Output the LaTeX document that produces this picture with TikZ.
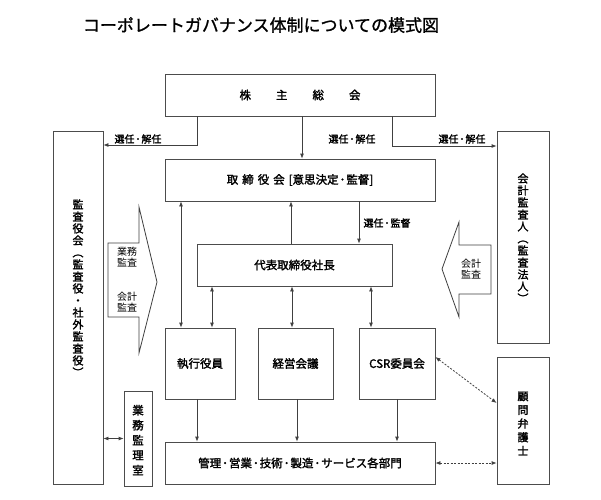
\documentclass[tikz,border=0pt]{standalone}
\usepackage{fontspec}
\newfontfamily\jp{Noto Sans CJK JP}
\newfontfamily\jpt[FakeBold=1.2]{Noto Sans CJK JP}
\newfontfamily\jpb[FakeBold=1.8]{Noto Sans CJK JP}
\usetikzlibrary{arrows.meta}
\newcommand{\hdot}{\hspace{1pt}･\hspace{1pt}}
\begin{document}
\begin{tikzpicture}[x=1pt,y=-1pt,
  bx/.style={draw=black!70, line width=0.8pt, inner sep=0pt, font=\jpb\fontsize{11.5}{13}\selectfont, align=center},
  vt/.style={font=\jpb\fontsize{11}{12}\selectfont, align=center, inner sep=0pt},
  arr/.style={draw=black!75, line width=0.8pt, -{Latex[length=5pt,width=4pt]}},
  darr/.style={draw=black!75, line width=0.8pt, {Latex[length=5pt,width=4pt]}-{Latex[length=5pt,width=4pt]}},
  dsh/.style={darr, dash pattern=on 2pt off 1.5pt},
  lbl/.style={font=\jpb\fontsize{10}{12}\selectfont, inner sep=0pt},
  co/.style={draw=black!75, line width=0.8pt, fill=white, line join=miter},
  cot/.style={font=\jp\fontsize{10}{11}\selectfont, align=center, inner sep=0pt}
]
\useasboundingbox (0,0) rectangle (601,499);
\fill[white] (0,0) rectangle (601,499);

% title
\node[font=\jpt\fontsize{17}{20}\selectfont, inner sep=0pt] (title) at (261,25) {コーポレートガバナンス体制についての模式図};

% boxes
\node[bx, minimum width=270pt, minimum height=42pt] (sh) at (300,95) {株\hspace{25pt}主\hspace{25pt}総\hspace{25pt}会};
\node[bx, minimum width=270pt, minimum height=42pt] (bd) at (300,180) {取\hspace{4pt}締\hspace{4pt}役\hspace{4pt}会\hspace{4pt}[意思決定\hdot 監督]};
\node[bx, minimum width=195pt, minimum height=42pt] (ceo) at (294.5,265) {代表取締役社長};
\node[bx, minimum width=70pt, minimum height=71pt] (exe) at (200,363.5) {執行役員};
\node[bx, minimum width=75pt, minimum height=71pt] (mgmt) at (295.5,363.5) {経営会議};
\node[bx, minimum width=76pt, minimum height=71pt] (csr) at (397,363.5) {CSR委員会};
\node[bx, minimum width=270pt, minimum height=42pt] (dept) at (300,463) {管理\hdot 営業\hdot 技術\hdot 製造\hdot サービス各部門};

\node[bx, minimum width=50pt, minimum height=353pt] (aud) at (78,307.5) {};
\node[vt] (audt) at (78,288) {監\\査\\役\\会\\︵\\監\\査\\役\\・\\社\\外\\監\\査\\役\\︶};
\node[bx, minimum width=52pt, minimum height=212pt] (acc) at (523,237) {};
\node[vt] (acct) at (523,238) {会\\計\\監\\査\\人\\︵\\監\\査\\法\\人\\︶};
\node[bx, minimum width=52pt, minimum height=127pt] (law) at (523,420.5) {};
\node[vt, font=\jpb\fontsize{11}{13.7}\selectfont] (lawt) at (523,423.5) {顧\\問\\弁\\護\\士};
\node[bx, minimum width=28pt, minimum height=95pt] (ia) at (138,438.5) {};
\node[vt, font=\jpb\fontsize{11.5}{15}\selectfont] (iat) at (138,440) {業\\務\\監\\理\\室};

% callouts
\draw[co] (108,243) -- (139,243) -- (139,207) -- (157,282) -- (139,353) -- (139,317) -- (108,317) -- cycle;
\node[cot] (c1a) at (127,257) {業務\\監査};
\node[cot] (c1b) at (127,302) {会計\\監査};
\draw[co] (491,245) -- (459,245) -- (459,222) -- (442,269) -- (459,317) -- (459,294) -- (491,294) -- cycle;
\node[cot] (c2) at (471,269) {会計\\監査};

% connectors from shareholders
\coordinate (cL) at (197,145);
\coordinate (cR) at (392,146);
\draw[arr] ([xshift=-103pt]sh.south) -- (cL) -- (aud.east |- cL);
\draw[arr] ([xshift=92pt]sh.south) -- (cR) -- (acc.west |- cR);
\draw[arr] ([xshift=2pt]sh.south) -- ([xshift=2pt]bd.north);
\node[lbl] (l1) at (138,139) {選任\hdot 解任};
\node[lbl] (l2) at (352,139) {選任\hdot 解任};
\node[lbl] (l3) at (462,139) {選任\hdot 解任};

% board / ceo
\draw[arr] ([xshift=59pt]bd.south) -- ([xshift=59pt]bd.south |- ceo.north);
\node[lbl] (l4) at (387,223) {選任\hdot 監督};
\draw[arr] ([xshift=-3.5pt]ceo.north) -- ([xshift=-3.5pt]ceo.north |- bd.south);
\draw[darr] ([xshift=-119pt]bd.south) -- ([xshift=-119pt]bd.south |- exe.north);

\draw[darr] ([xshift=-82.5pt]ceo.south) -- ([xshift=-82.5pt]ceo.south |- exe.north);
\draw[darr] ([xshift=-2.5pt]ceo.south) -- ([xshift=-2.5pt]ceo.south |- mgmt.north);
\draw[darr] ([xshift=76.5pt]ceo.south) -- ([xshift=76.5pt]ceo.south |- csr.north);

% to departments
\draw[arr] ([xshift=-3pt]exe.south) -- ([xshift=-3pt]exe.south |- dept.north);
\draw[arr] ([xshift=1.5pt]mgmt.south) -- ([xshift=1.5pt]mgmt.south |- dept.north);
\draw[arr] (csr.south) -- (csr.south |- dept.north);

% side links
\draw[darr] (aud.east |- ia.west) -- (ia.west);
\draw[dsh] ([yshift=6.5pt]csr.east) -- ([yshift=17.5pt]law.west);
\draw[dsh] (dept.east) -- (law.west |- dept.east);
\end{tikzpicture}
\end{document}
